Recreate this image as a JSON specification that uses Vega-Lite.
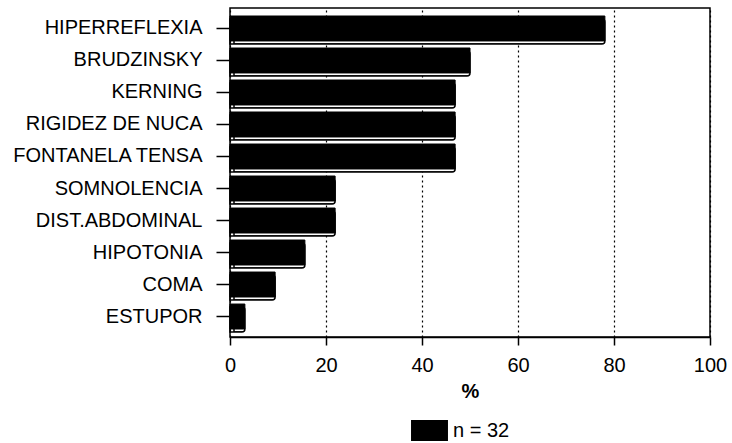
{
  "$schema": "https://vega.github.io/schema/vega-lite/v6.json",
  "autosize": "none",
  "width": 480,
  "height": 329,
  "padding": {"left": 230, "top": 8, "right": 22, "bottom": 106},
  "background": "white",
  "config": {
    "font": "Liberation Sans",
    "view": {"stroke": "black", "strokeWidth": 1.5},
    "axis": {"labelColor": "black", "titleColor": "black", "domainColor": "black", "tickColor": "black", "domainWidth": 1.5, "tickWidth": 1.5}
  },
  "data": {
    "values": [
      {"signo": "HIPERREFLEXIA", "pct": 78.1, "grupo": "n = 32"},
      {"signo": "BRUDZINSKY", "pct": 50.0, "grupo": "n = 32"},
      {"signo": "KERNING", "pct": 46.9, "grupo": "n = 32"},
      {"signo": "RIGIDEZ DE NUCA", "pct": 46.9, "grupo": "n = 32"},
      {"signo": "FONTANELA TENSA", "pct": 46.9, "grupo": "n = 32"},
      {"signo": "SOMNOLENCIA", "pct": 21.9, "grupo": "n = 32"},
      {"signo": "DIST.ABDOMINAL", "pct": 21.9, "grupo": "n = 32"},
      {"signo": "HIPOTONIA", "pct": 15.6, "grupo": "n = 32"},
      {"signo": "COMA", "pct": 9.4, "grupo": "n = 32"},
      {"signo": "ESTUPOR", "pct": 3.1, "grupo": "n = 32"}
    ]
  },
  "encoding": {
    "y": {
      "field": "signo", "type": "nominal", "sort": null,
      "scale": {"paddingInner": 0.22, "paddingOuter": 0.25},
      "axis": {"title": null, "labelFontSize": 20, "labelLimit": 240, "labelPadding": 14, "tickSize": 14, "domain": false, "grid": false}
    },
    "x": {
      "field": "pct", "type": "quantitative",
      "scale": {"domain": [0, 100]},
      "axis": {"title": "%", "values": [0, 20, 40, 60, 80, 100], "labelFontSize": 20, "labelPadding": 10, "tickSize": 8, "titleFontSize": 20, "titleFontWeight": "bold", "titlePadding": 6, "titleX": 240, "grid": true, "gridColor": "black", "gridDash": [2, 3], "gridWidth": 1.2, "labelFlush": false}
    }
  },
  "layer": [
    {
      "mark": {"type": "bar", "fill": "white", "stroke": "black", "strokeWidth": 1.5, "xOffset": 4, "yOffset": 3, "cornerRadiusEnd": 3}
    },
    {
      "mark": {"type": "bar", "stroke": "black", "strokeWidth": 1},
      "encoding": {
        "color": {
          "field": "grupo", "type": "nominal",
          "scale": {"range": ["black"]},
          "legend": {"title": null, "orient": "none", "legendX": 189, "legendY": 412, "symbolType": "M-1.76,-1H1.76V1H-1.76Z", "symbolSize": 441, "symbolStrokeWidth": 0, "labelFontSize": 20, "labelOffset": 13}
        }
      }
    }
  ]
}
